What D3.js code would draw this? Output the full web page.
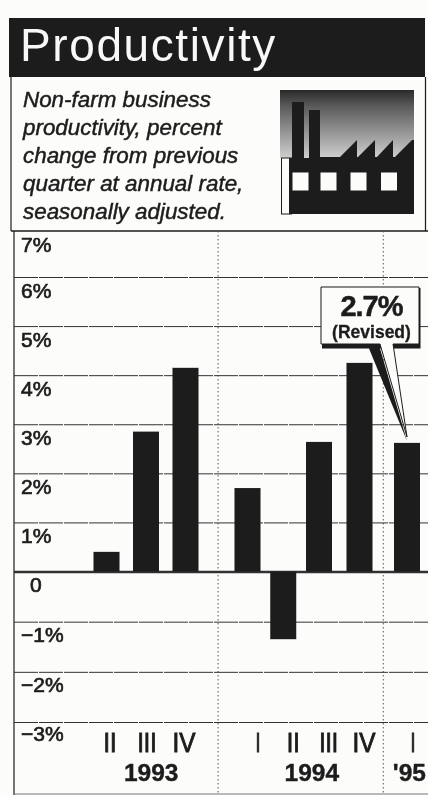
<!DOCTYPE html>
<html>
<head>
<meta charset="utf-8">
<script src="https://cdn.jsdelivr.net/npm/d3@7"></script>
<style>
html, body { margin: 0; padding: 0; background: #fcfcfa; }
svg { display: block; }
text { font-family: "Liberation Sans", Arial, sans-serif; fill: #1c1c1c; }
</style>
</head>
<body>
<div id="chart"></div>
<script>
var quarters = ["II", "III", "IV", "I", "II", "III", "IV", "I"];
var values = [0.4, 2.85, 4.15, 1.7, -1.35, 2.64, 4.25, 2.62];
var years = ["1993", "1994", "'95"];
var yearSlots = [1.13, 4.8, 7.05];
var yTicks = [-3, -2, -1, 0, 1, 2, 3, 4, 5, 6, 7];
var introLines = ["Non-farm business", "productivity, percent", "change from previous", "quarter at annual rate,", "seasonally adjusted."];

var width = 428, height = 795;
var ink = "#1c1c1c";
var paper = "#fcfcfa";

var svg = d3.select("#chart").append("svg")
    .attr("width", width)
    .attr("height", height);

// slight blur, the reference is a newspaper scan
var defs = svg.append("defs");
defs.append("filter").attr("id", "scan")
    .append("feGaussianBlur").attr("stdDeviation", 0.7);
var sky = defs.append("linearGradient").attr("id", "sky")
    .attr("x1", 0).attr("x2", 0).attr("y1", 0).attr("y2", 1);
sky.append("stop").attr("offset", "0%").attr("stop-color", "#2a2a2a");
sky.append("stop").attr("offset", "25%").attr("stop-color", "#5c5c5c");
sky.append("stop").attr("offset", "100%").attr("stop-color", "#cfcfcf");

var root = svg.append("g").attr("filter", "url(#scan)");

// the scale is not quite even in the print, so a few knots
var y = d3.scaleLinear()
    .domain([-3, 0, 6, 7])
    .range([722, 571.5, 277, 231]);
var x = d3.scaleLinear()
    .domain([0, 2, 3, 5, 6, 7])
    .range([106.5, 185.5, 247.5, 319, 359.5, 407]);
var xLabel = d3.scaleLinear()
    .domain([0, 2, 3, 6, 7])
    .range([110, 184, 258, 364, 413]);

// header
root.append("rect")
    .attr("x", 9).attr("y", 18).attr("width", 416).attr("height", 59)
    .attr("fill", ink);
root.append("text")
    .attr("x", 20).attr("y", 61)
    .attr("font-size", 46)
    .attr("letter-spacing", 1.6)
    .style("fill", "#f8f8f8")
    .text("Productivity");

root.selectAll(".intro")
    .data(introLines)
    .enter().append("text")
    .attr("class", "intro")
    .attr("x", 23)
    .attr("y", function(d, i) { return 107 + i * 27.9; })
    .attr("font-size", 22.4)
    .attr("font-style", "italic")
    .attr("stroke", ink)
    .attr("stroke-width", 0.45)
    .text(function(d) { return d; });

// factory icon
var icon = root.append("g");
icon.append("rect")
    .attr("x", 280).attr("y", 90).attr("width", 134).attr("height", 68)
    .attr("fill", "url(#sky)");
icon.append("rect")
    .attr("x", 281.5).attr("y", 158).attr("width", 10).attr("height", 56)
    .attr("fill", paper).attr("stroke", ink).attr("stroke-width", 1);
icon.append("path")
    .attr("d", "M289 214V158H292V102H304V158H309V110H320V157H340L357 140V157H358L375 140V157H377L393 140V157H395L412 140L414 140V214Z")
    .attr("fill", ink);
icon.selectAll(".win")
    .data([292.5, 320.5, 350.5, 381])
    .enter().append("rect")
    .attr("class", "win")
    .attr("x", function(d) { return d; })
    .attr("y", 172.5).attr("width", 16).attr("height", 18)
    .attr("fill", paper);

// panel border
root.append("path")
    .attr("d", "M11 77V231M14 231V795M425.5 77V231")
    .attr("fill", "none").attr("stroke", ink).attr("stroke-width", 1.2);
root.append("line")
    .attr("x1", 11).attr("x2", 428).attr("y1", 231).attr("y2", 231)
    .attr("stroke", ink).attr("stroke-width", 1.4);
root.append("line")
    .attr("x1", 14).attr("x2", 428).attr("y1", 794).attr("y2", 794)
    .attr("stroke", "#777").attr("stroke-width", 1);

// year dividers, between the quarters
root.selectAll(".divider")
    .data([2.525, 6.5])
    .enter().append("line")
    .attr("class", "divider")
    .attr("x1", function(d) { return x(d); })
    .attr("x2", function(d) { return x(d); })
    .attr("y1", 231).attr("y2", 795)
    .attr("stroke", "#555").attr("stroke-width", 1)
    .attr("stroke-dasharray", "1.5 2.5");

// y axis, labels sit under their gridline
var yAxis = d3.axisLeft(y)
    .tickValues(yTicks)
    .tickSize(-(width - 14))
    .tickFormat(function(d) {
        if (d == 0) return "0";
        return (d < 0 ? "\u2212" + (-d) : d) + "%";
    });
var axisG = root.append("g")
    .attr("transform", "translate(14,0)")
    .call(yAxis);
axisG.select(".domain").remove();
axisG.selectAll(".tick line")
    .attr("stroke", "#333")
    .attr("stroke-width", function(d) { return d == 0 ? 2.6 : 1; })
    .attr("stroke-dasharray", function(d) { return d == 0 ? null : "24 1"; })
    .attr("opacity", function(d) { return d == 7 ? 0 : 1; });
axisG.selectAll(".tick text")
    .attr("x", function(d) { return d == 0 ? 16 : 7; })
    .attr("dy", 0)
    .attr("y", function(d) { return d == -3 ? 18 : 20; })
    .attr("text-anchor", "start")
    .attr("font-size", 21)
    .attr("font-family", "Liberation Sans")
    .attr("stroke", ink)
    .attr("stroke-width", 0.7);

// bars
var barWidth = 26;
root.selectAll(".bar")
    .data(values)
    .enter().append("rect")
    .attr("class", "bar")
    .attr("x", function(d, i) { return x(i) - barWidth / 2; })
    .attr("y", function(d) { return y(Math.max(d, 0)); })
    .attr("width", barWidth)
    .attr("height", function(d) { return Math.abs(y(d) - y(0)); })
    .attr("fill", ink);

// quarter and year labels
root.selectAll(".quarter")
    .data(quarters)
    .enter().append("text")
    .attr("class", "quarter")
    .attr("x", function(d, i) { return xLabel(i); })
    .attr("y", 752)
    .attr("text-anchor", "middle")
    .attr("font-size", 27)
    .attr("stroke", ink)
    .attr("stroke-width", 0.9)
    .attr("textLength", function(d) { return d.length == 1 ? 5 : (d == "II" ? 13 : (d == "III" ? 19 : 23)); })
    .attr("lengthAdjust", "spacingAndGlyphs")
    .text(function(d) { return d; });

root.selectAll(".year")
    .data(years)
    .enter().append("text")
    .attr("class", "year")
    .attr("x", function(d, i) { return x(yearSlots[i]); })
    .attr("y", 781)
    .attr("text-anchor", "middle")
    .attr("font-size", 24.5)
    .attr("font-weight", "bold")
    .attr("stroke", ink)
    .attr("stroke-width", 0.4)
    .text(function(d) { return d; });

// callout for the last bar
var tip = [x(7), y(values[7]) - 2];
root.append("path")
    .attr("d", "M322 288H420.5V348.5H380L" + tip[0] + " " + tip[1] + "L369 348.5H322Z")
    .attr("fill", ink);
root.append("path")
    .attr("d", "M321 287H419V344H393L" + tip[0] + " " + (tip[1] - 4) + "L380 344H321Z")
    .attr("fill", paper)
    .attr("stroke", ink)
    .attr("stroke-width", 1);
root.append("text")
    .attr("x", 371.5).attr("y", 315.5)
    .attr("text-anchor", "middle")
    .attr("font-size", 29)
    .attr("letter-spacing", -1)
    .attr("font-weight", "bold")
    .attr("stroke", ink)
    .attr("stroke-width", 0.5)
    .text("2.7%");
root.append("text")
    .attr("x", 371.5).attr("y", 337.5)
    .attr("text-anchor", "middle")
    .attr("font-size", 17.5)
    .attr("font-weight", "bold")
    .attr("stroke", ink)
    .attr("stroke-width", 0.3)
    .text("(Revised)");
</script>
</body>
</html>
